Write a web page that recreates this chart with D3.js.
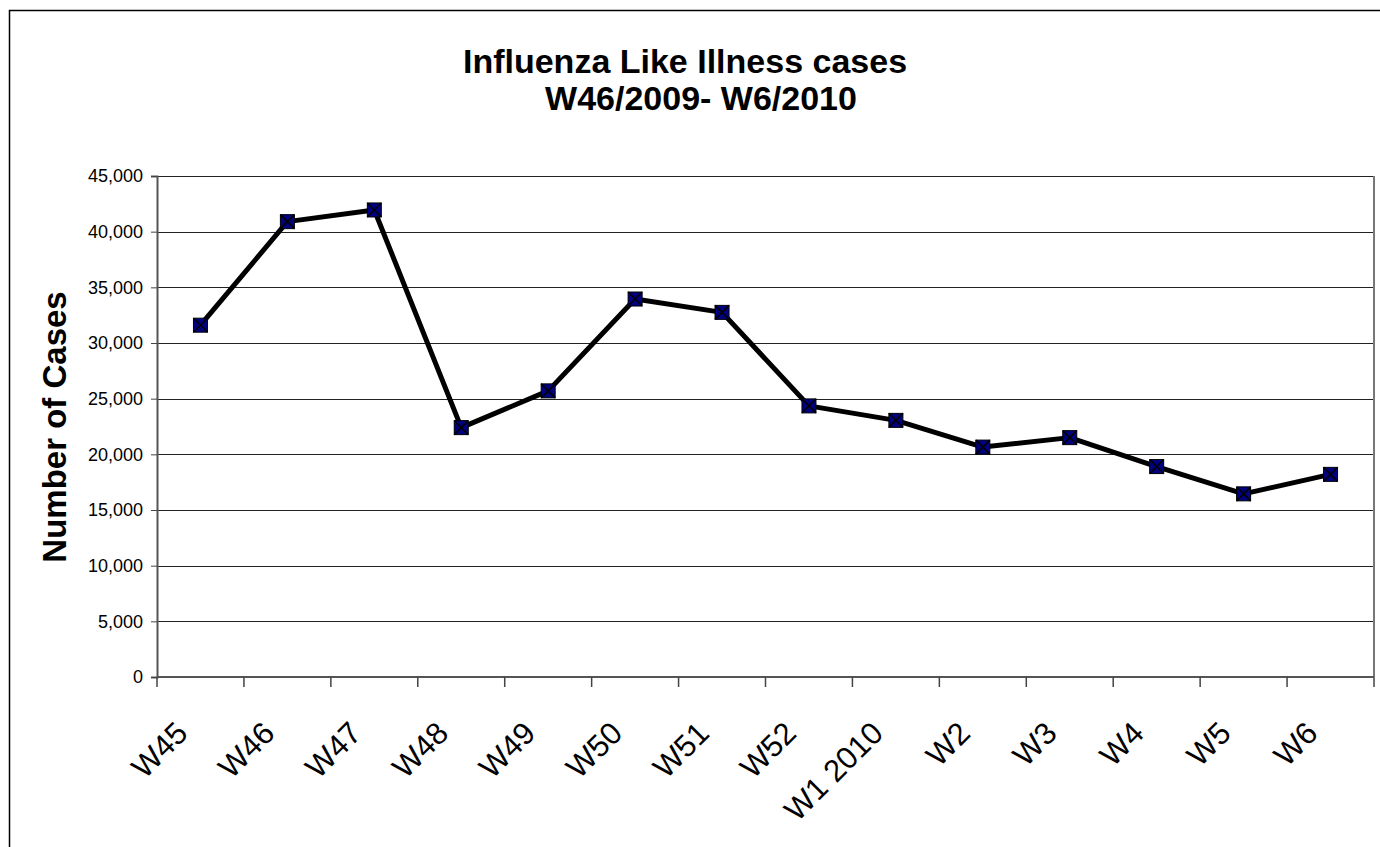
<!DOCTYPE html>
<html>
<head>
<meta charset="utf-8">
<script src="https://cdn.jsdelivr.net/npm/d3@7"></script>
<style>
  body { margin: 0; background: #fff; }
  text { font-family: "Liberation Sans", Arial, sans-serif; }
</style>
</head>
<body>
<div id="chart"></div>
<script>
// data
var weeks = ["W45", "W46", "W47", "W48", "W49", "W50", "W51", "W52", "W1 2010", "W2", "W3", "W4", "W5", "W6"];
var cases = [31600, 40900, 41950, 22400, 25700, 33950, 32750, 24350, 23050, 20650, 21500, 18900, 16450, 18200];
var yTicks = [0, 5000, 10000, 15000, 20000, 25000, 30000, 35000, 40000, 45000];
var titleLines = ["Influenza Like Illness cases", "W46/2009- W6/2010"];

var W = 1380, H = 847;
var margin = {top: 176, right: 6, bottom: 170, left: 157},
    width = W - margin.left - margin.right,
    height = H - margin.top - margin.bottom;

var root = d3.select("#chart")
  .append("svg")
  .attr("width", W)
  .attr("height", H);

// outer chart border
root.append("rect")
  .attr("x", 9.5).attr("y", 10.5)
  .attr("width", W).attr("height", H)
  .attr("fill", "none")
  .attr("stroke", "#000")
  .attr("stroke-width", 1.5);

// title
root.append("text")
  .attr("x", 685).attr("y", 73)
  .attr("text-anchor", "middle")
  .style("font-size", "34px").style("font-weight", "bold")
  .text(titleLines[0]);
root.append("text")
  .attr("x", 701).attr("y", 110)
  .attr("text-anchor", "middle")
  .style("font-size", "34px").style("font-weight", "bold")
  .text(titleLines[1]);

// y axis title
root.append("text")
  .attr("transform", "translate(66,427) rotate(-90)")
  .attr("text-anchor", "middle")
  .style("font-size", "33px").style("font-weight", "bold")
  .text("Number of Cases");

var svg = root.append("g")
  .attr("transform", "translate(" + margin.left + "," + margin.top + ")");

var x = d3.scaleBand()
  .domain(weeks)
  .range([0, width]);

var y = d3.scaleLinear()
  .domain([0, 45000])
  .range([height, 0]);

// gridlines
svg.append("g")
  .selectAll("line")
  .data(yTicks.filter(d => d > 0))
  .enter()
  .append("line")
  .attr("x1", 0).attr("x2", width)
  .attr("y1", d => Math.round(y(d)) + 0.5)
  .attr("y2", d => Math.round(y(d)) + 0.5)
  .attr("stroke", "#222")
  .attr("stroke-width", 1);

// right border of plot area
svg.append("line")
  .attr("x1", width).attr("x2", width)
  .attr("y1", 0).attr("y2", height)
  .attr("stroke", "#777").attr("stroke-width", 2);

// Y axis
var yAxis = svg.append("g")
  .call(d3.axisLeft(y).tickValues(yTicks).tickFormat(d3.format(",")).tickSize(6).tickPadding(8));
yAxis.selectAll("text").style("font-size", "18px").attr("fill", "#000");
yAxis.selectAll("line").attr("stroke", "#444");
yAxis.select(".domain").attr("stroke", "#555").attr("stroke-width", 2);

// X axis, ticks on category boundaries
var xAxis = svg.append("g")
  .attr("transform", "translate(0," + height + ")");
xAxis.append("line")
  .attr("x1", 0).attr("x2", width)
  .attr("stroke", "#555").attr("stroke-width", 2);
xAxis.selectAll(".tick")
  .data(weeks.concat(["end"]))
  .enter()
  .append("line")
  .attr("x1", (d, i) => i * x.bandwidth())
  .attr("x2", (d, i) => i * x.bandwidth())
  .attr("y1", 0).attr("y2", 10)
  .attr("stroke", "#444").attr("stroke-width", 1.5);
xAxis.selectAll(".lbl")
  .data(weeks)
  .enter()
  .append("text")
  .attr("transform", d => "translate(" + (x(d) + x.bandwidth() / 2 - 11) + ",58) rotate(-45)")
  .attr("text-anchor", "end")
  .style("font-size", "31px")
  .text(d => d);

// line
var line = d3.line()
  .x((d, i) => x(weeks[i]) + x.bandwidth() / 2)
  .y(d => y(d));

svg.append("path")
  .datum(cases)
  .attr("fill", "none")
  .attr("stroke", "#000")
  .attr("stroke-width", 5)
  .attr("stroke-linejoin", "round")
  .attr("d", line);

// markers
var s = 7;
var mk = svg.selectAll(".mk")
  .data(cases)
  .enter()
  .append("g")
  .attr("transform", (d, i) => "translate(" + (x(weeks[i]) + x.bandwidth() / 2) + "," + y(d) + ")");
mk.append("rect")
  .attr("x", -s).attr("y", -s)
  .attr("width", 2 * s).attr("height", 2 * s)
  .attr("fill", "#000080")
  .attr("stroke", "#000").attr("stroke-width", 1);
mk.append("path")
  .attr("d", "M" + (-s) + "," + (-s) + "L" + s + "," + s + "M" + s + "," + (-s) + "L" + (-s) + "," + s)
  .attr("stroke", "#000").attr("stroke-width", 1.5);
</script>
</body>
</html>
